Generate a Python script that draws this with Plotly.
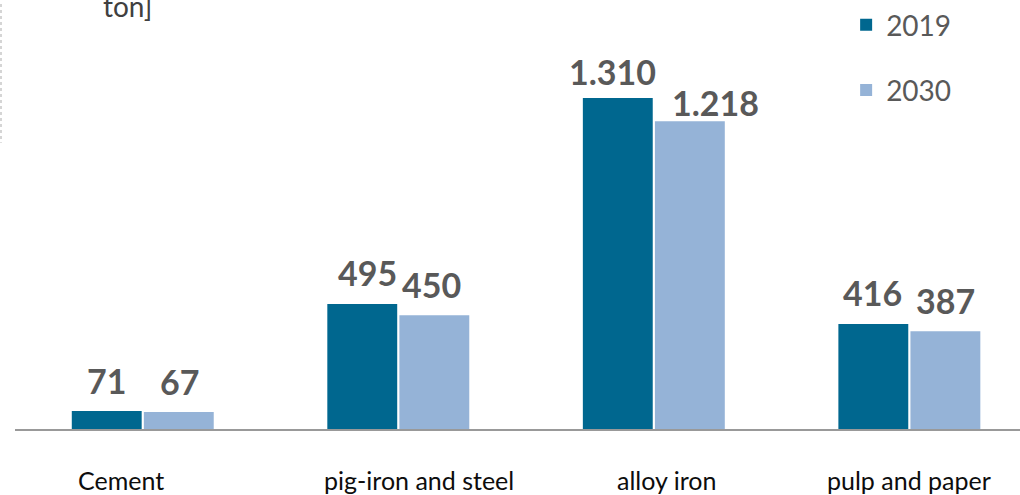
import plotly.graph_objects as go

categories = ["Cement", "pig-iron and steel", "alloy iron", "pulp and paper"]
values_2019 = [71, 495, 1310, 416]
values_2030 = [67, 450, 1218, 387]
series_names = ["2019", "2030"]

# per-label nudges (px) for the crowded alloy-iron pair: (xshift, yshift)
nudge_2019 = [(0, 0), (6, 0), (-5, -4), (0, 0)]
nudge_2030 = [(0, 0), (-3, 0), (25, -12), (0, 0)]
# horizontal placement of the category captions relative to each group centre (px)
caption_shift = [-22, 21, 13, 0]

C2019 = "#00678f"
C2030 = "#95b3d7"
LABEL_GREY = "#595959"

fig = go.Figure()
for name, vals, col in [(series_names[0], values_2019, C2019),
                        (series_names[1], values_2030, C2030)]:
    fig.add_trace(go.Bar(
        x=categories, y=vals, name=name, legendgroup=name,
        marker=dict(color=col, line=dict(width=0)),
    ))

# value labels above each bar
annotations = []
for vals, side, nudges in [(values_2019, -1, nudge_2019), (values_2030, 1, nudge_2030)]:
    for cat, v, (dx, dy) in zip(categories, vals, nudges):
        annotations.append(dict(
            x=cat, y=v, xref="x", yref="y",
            text=f"{v:,}".replace(",", "."),
            showarrow=False, xanchor="center", yanchor="middle",
            xshift=side * 36.5 + dx, yshift=31 + dy,
            font=dict(family="Lato", size=34, color=LABEL_GREY, weight="bold"),
        ))

# category captions under the axis line
for cat, dx in zip(categories, caption_shift):
    annotations.append(dict(
        x=cat, y=0, xref="x", yref="paper", text=cat,
        showarrow=False, xanchor="center", yanchor="middle",
        xshift=dx, yshift=-51,
        font=dict(family="Lato", size=25, color="#0d0d0d"),
    ))

annotations.append(dict(
    text="ton]", xref="paper", yref="paper", x=(101 - 15) / 1005, y=1.0,
    xanchor="left", yanchor="middle", yshift=-2, showarrow=False,
    font=dict(family="Lato", size=28, color="#404040"),
))

fig.update_layout(
    width=1020, height=495,
    margin=dict(l=15, r=0, t=0, b=66),
    paper_bgcolor="white", plot_bgcolor="white",
    barmode="group", bargap=0.436, bargroupgap=0.03,
    font=dict(family="Lato"),
    showlegend=True,
    legend=dict(
        x=0.827, y=1.01, xanchor="left", yanchor="top",
        font=dict(family="Lato", size=28, color=LABEL_GREY),
        tracegroupgap=26, itemwidth=30, bgcolor="rgba(0,0,0,0)",
    ),
    xaxis=dict(
        range=[-0.5, 3.433], showgrid=False, zeroline=False,
        showline=True, linecolor="#999999", linewidth=2,
        showticklabels=False, ticks="", automargin=False,
    ),
    yaxis=dict(range=[0, 1682.6], visible=False, showgrid=False,
               zeroline=False, automargin=False),
    annotations=annotations,
    shapes=[dict(
        type="line", xref="paper", yref="paper",
        x0=-14 / 1005, x1=-14 / 1005, y0=1.0, y1=1 - 140 / 429,
        line=dict(color="#c8c8c8", width=1.5, dash="dot"),
    )],
)

fig.write_html("out.html")
